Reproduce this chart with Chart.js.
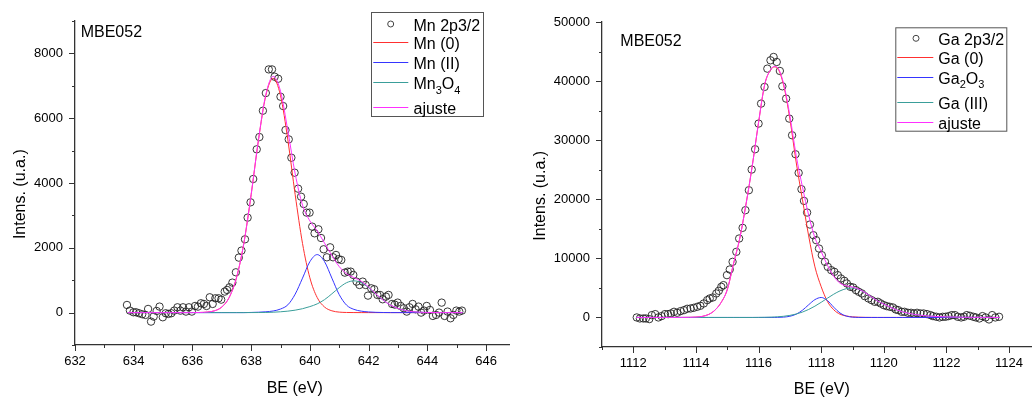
<!DOCTYPE html>
<html>
<head>
<meta charset="utf-8">
<script src="https://cdn.jsdelivr.net/npm/chart.js@4.4.1/dist/chart.umd.min.js"></script>
<style>
  html, body { margin: 0; padding: 0; background: #fff; }
  #wrap { position: relative; width: 1036px; height: 397px; }
  canvas { position: absolute; top: 0; }
  #mn { left: 0; }
  #ga { left: 518px; }
</style>
</head>
<body>
<div id="wrap">
  <canvas id="mn" width="518" height="397"></canvas>
  <canvas id="ga" width="518" height="397"></canvas>
</div>
<script>
// ---- Mn 2p3/2 : points mesures ----
const mnBE = [633.77, 633.87, 633.99, 634.08, 634.18, 634.29, 634.40, 634.49, 634.59, 634.68,
  634.78, 634.88, 634.99, 635.09, 635.18, 635.28, 635.38, 635.49, 635.59, 635.68,
  635.78, 635.88, 635.98, 636.09, 636.19, 636.29, 636.39, 636.48, 636.59, 636.69,
  636.78, 636.89, 636.98, 637.10, 637.18, 637.26, 637.36, 637.48, 637.58, 637.67,
  637.79, 637.88, 637.98, 638.07, 638.19, 638.28, 638.40, 638.50, 638.60, 638.71,
  638.80, 638.92, 639.00, 639.09, 639.17, 639.28, 639.37, 639.48, 639.60, 639.70,
  639.79, 639.89, 639.99, 640.08, 640.16, 640.29, 640.38, 640.47, 640.58, 640.69,
  640.79, 640.89, 640.98, 641.07, 641.19, 641.29, 641.39, 641.48, 641.59, 641.69,
  641.80, 641.90, 641.98, 642.09, 642.19, 642.30, 642.39, 642.48, 642.59, 642.68,
  642.80, 642.89, 642.99, 643.09, 643.20, 643.30, 643.39, 643.50, 643.60, 643.70,
  643.79, 643.89, 643.98, 644.09, 644.19, 644.30, 644.40, 644.49, 644.59, 644.69,
  644.79, 644.89, 644.99, 645.09, 645.18];
const mnCounts = [236, 62, 10, 10, -20, -51, -72, 113, -278, -123,
  51, 185, -144, -20, -41, -20, 62, 164, 60, 164,
  31, 164, 31, 205, 185, 288, 267, 205, 473, 267,
  442, 442, 400, 648, 700, 781, 925, 1244, 1697, 1913,
  2262, 2931, 3404, 4123, 5039, 5419, 6231, 6776, 7506, 7506,
  7280, 7218, 6663, 6375, 5635, 5347, 4781, 4319, 3825, 3578,
  3352, 3085, 3085, 2653, 2447, 2571, 2303, 1954, 1707, 2015,
  1707, 1779, 1650, 1625, 1234, 1265, 1265, 1162, 956, 853,
  956, 853, 524, 750, 720, 545, 545, 411, 494, 545,
  267, 247, 308, 205, 134, 31, 164, 267, 103, 185,
  0, 62, 205, 82, -103, -72, 0, 308, -103, 31,
  -175, -72, 62, 31, 62];

// ---- Mn : composantes de l'ajustement ----
const mnFitBE = [633.8, 635.0, 635.75, 636.0, 636.25, 636.5, 636.75, 637.0, 637.25, 637.5,
  637.75, 638.0, 638.25, 638.5, 638.75, 639.0, 639.25, 639.5, 639.75, 640.0,
  640.25, 640.5, 640.75, 641.0, 641.25, 641.5, 641.75, 642.0, 642.25, 642.5,
  642.75, 643.0, 643.25, 643.5, 643.75, 644.0, 644.5, 645.2];
const mnFit0 = [0, 0, 0, 1, 4, 15, 55, 172, 464, 1074,
  2133, 3638, 5329, 6699, 7230, 6699, 5329, 3638, 2133, 1074,
  464, 172, 55, 15, 4, 1, 0, 0, 0, 0,
  0, 0, 0, 0, 0, 0, 0, 0];
const mnFitII = [0, 0, 0, 0, 0, 0, 0, 0, 0, 0,
  0, 5, 12, 25, 50, 110, 240, 570, 1064, 1572,
  1790, 1572, 1064, 555, 230, 100, 45, 20, 8, 3,
  0, 0, 0, 0, 0, 0, 0, 0];
const mnFitOx = [0, 0, 0, 0, 0, 0, 0, 0, 0, 0,
  0, 1, 2, 5, 12, 25, 45, 75, 120, 185,
  270, 400, 580, 770, 923, 980, 923, 770, 570, 380,
  230, 130, 65, 30, 12, 5, 0, 0];
const mnFitSum = [0, 0, 0, 1, 4, 15, 55, 172, 464, 1074,
  2133, 3644, 5343, 6729, 7292, 6834, 5614, 4283, 3317, 2831,
  2524, 2144, 1760, 1420, 1200, 1081, 968, 790, 578, 383,
  230, 130, 65, 30, 12, 5, 0, 0];

// ---- Ga 2p3/2 : points mesures ----
const gaBE = [1112.11, 1112.21, 1112.32, 1112.40, 1112.51, 1112.59, 1112.70, 1112.80, 1112.90, 1113.01,
  1113.11, 1113.20, 1113.30, 1113.40, 1113.51, 1113.62, 1113.72, 1113.83, 1113.93, 1114.04,
  1114.14, 1114.25, 1114.36, 1114.44, 1114.54, 1114.65, 1114.73, 1114.81, 1114.88, 1114.99,
  1115.08, 1115.17, 1115.29, 1115.38, 1115.49, 1115.58, 1115.69, 1115.78, 1115.89, 1116.00,
  1116.08, 1116.19, 1116.28, 1116.38, 1116.48, 1116.58, 1116.68, 1116.76, 1116.88, 1116.98,
  1117.07, 1117.18, 1117.28, 1117.37, 1117.45, 1117.55, 1117.64, 1117.75, 1117.84, 1117.93,
  1118.02, 1118.12, 1118.21, 1118.32, 1118.42, 1118.53, 1118.63, 1118.74, 1118.82, 1118.93,
  1119.02, 1119.11, 1119.20, 1119.30, 1119.39, 1119.51, 1119.61, 1119.71, 1119.81, 1119.90,
  1120.00, 1120.09, 1120.19, 1120.29, 1120.38, 1120.46, 1120.57, 1120.66, 1120.77, 1120.87,
  1120.96, 1121.06, 1121.17, 1121.27, 1121.38, 1121.49, 1121.57, 1121.68, 1121.78, 1121.88,
  1121.97, 1122.07, 1122.17, 1122.27, 1122.36, 1122.47, 1122.56, 1122.65, 1122.75, 1122.86,
  1122.94, 1123.05, 1123.15, 1123.25, 1123.36, 1123.46, 1123.56, 1123.68];
const gaCounts = [0, -170, -170, -170, -280, 395, 564, 0, 225, 564,
  564, 676, 958, 790, 1071, 1240, 1466, 1522, 1635, 1804,
  1973, 2368, 2931, 3213, 3382, 4059, 4510, 5186, 5468, 7159,
  8117, 9414, 11105, 13360, 15164, 18151, 21533, 25028, 28467, 32807,
  36190, 39008, 42108, 43517, 44081, 43236, 41714, 39121, 37035, 33653,
  30834, 27621, 24464, 21702, 19729, 17756, 15727, 13923, 13078, 11669,
  10541, 9414, 8568, 8005, 7723, 7159, 6595, 6200, 5750, 5186,
  5073, 4622, 4340, 4059, 3608, 3213, 2931, 2649, 2649, 2368,
  2086, 1917, 1804, 1691, 1353, 1240, 958, 958, 790, 790,
  676, 790, 676, 676, 564, 395, 225, 113, 0, 113,
  113, 225, 395, 395, 113, 0, 113, 395, 282, 113,
  0, -170, 225, 0, -338, 395, 0, 113];

// ---- Ga : composantes de l'ajustement ----
const gaFitBE = [1112.1, 1113.0, 1113.5, 1113.8, 1114.0, 1114.2, 1114.4, 1114.6, 1114.8, 1115.0,
  1115.2, 1115.4, 1115.6, 1115.8, 1116.0, 1116.2, 1116.4, 1116.5, 1116.6, 1116.8,
  1117.0, 1117.2, 1117.4, 1117.6, 1117.8, 1118.0, 1118.2, 1118.4, 1118.6, 1118.8,
  1119.0, 1119.2, 1119.4, 1119.6, 1119.8, 1120.0, 1120.2, 1120.4, 1120.6, 1120.8,
  1121.0, 1121.4, 1122.0, 1122.6, 1123.7];
const gaFit0 = [0, 0, 5, 20, 60, 180, 500, 1200, 2500, 4700,
  9100, 13400, 19200, 25700, 33000, 39500, 42000, 42400, 42200, 39300,
  33600, 26300, 20000, 13800, 8560, 5200, 2700, 1300, 550, 250,
  100, 40, 15, 5, 0, 0, 0, 0, 0, 0,
  0, 0, 0, 0, 0];
const gaFitOx = [0, 0, 0, 0, 0, 0, 0, 0, 0, 0,
  0, 0, 0, 0, 0, 0, 2, 5, 13, 57,
  199, 552, 1219, 2149, 3019, 3380, 2861, 1735, 754, 235,
  52, 8, 0, 0, 0, 0, 0, 0, 0, 0,
  0, 0, 0, 0, 0];
const gaFitIII = [0, 0, 0, 0, 0, 0, 0, 0, 0, 0,
  0, 0, 0, 0, 12, 27, 55, 78, 107, 198,
  347, 577, 907, 1353, 1914, 2567, 3264, 3934, 4494, 4868,
  5000, 4750, 4200, 3500, 2800, 2250, 1750, 1300, 950, 700,
  500, 250, 100, 30, 0];
const gaFitSum = [0, 0, 5, 20, 60, 180, 500, 1200, 2500, 4700,
  9100, 13400, 19200, 25700, 33012, 39527, 42057, 42483, 42320, 39555,
  34146, 27429, 22126, 17302, 13493, 11147, 8825, 6969, 5798, 5353,
  5152, 4798, 4215, 3505, 2800, 2250, 1750, 1300, 950, 700,
  500, 250, 100, 30, 0];

// ---- graduations ----
const mnTicksX = [632, 634, 636, 638, 640, 642, 644, 646];
const mnMinorX = [633, 635, 637, 639, 641, 643, 645];
const mnTicksY = [0, 2000, 4000, 6000, 8000];
const mnMinorY = [-1000, 1000, 3000, 5000, 7000, 9000];
const gaTicksX = [1112, 1114, 1116, 1118, 1120, 1122, 1124];
const gaMinorX = [1111, 1113, 1115, 1117, 1119, 1121, 1123];
const gaTicksY = [0, 10000, 20000, 30000, 40000, 50000];
const gaMinorY = [-5000, 5000, 15000, 25000, 35000, 45000];

const FONT = '"Liberation Sans", Arial, sans-serif';
const RED = '#ff3030', BLUE = '#3535ff', TEAL = '#3a9e9a', MAGENTA = '#ff30ff';

function pairs(xs, ys) {
  return xs.map((x, i) => ({ x: x, y: ys[i] }));
}

// texte avec indices : "_3" -> 3 en indice
function drawRich(ctx, text, x, y, size) {
  for (let i = 0; i < text.length; i++) {
    let ch = text[i];
    let sub = false;
    if (ch === '_' && i + 1 < text.length) { sub = true; ch = text[++i]; }
    ctx.font = (sub ? Math.round(size * 0.66) : size) + 'px ' + FONT;
    ctx.fillText(ch, x, sub ? y + size * 0.3 : y);
    x += ctx.measureText(ch).width;
  }
}

// petites et grandes graduations, titres, etiquette et legende facon Origin
const originLook = {
  id: 'originLook',
  afterDraw(chart, args, o) {
    const ctx = chart.ctx;
    const a = chart.chartArea;
    const sx = chart.scales.x, sy = chart.scales.y;
    ctx.save();
    ctx.strokeStyle = '#333';
    ctx.lineWidth = 1;
    ctx.beginPath();
    const xt = (v, len) => {
      const p = Math.round(sx.getPixelForValue(v)) + 0.5;
      ctx.moveTo(p, a.bottom); ctx.lineTo(p, a.bottom + len);
    };
    const yt = (v, len) => {
      const p = Math.round(sy.getPixelForValue(v)) + 0.5;
      ctx.moveTo(a.left - len, p); ctx.lineTo(a.left, p);
    };
    o.xMajor.forEach(v => xt(v, 6));
    o.xMinor.forEach(v => xt(v, 3));
    o.yMajor.forEach(v => yt(v, 6));
    o.yMinor.forEach(v => yt(v, 3));
    ctx.stroke();

    ctx.fillStyle = '#000';
    ctx.font = '16px ' + FONT;
    ctx.textBaseline = 'alphabetic';
    ctx.textAlign = 'center';
    ctx.fillText(o.xTitle, o.xTitleAt[0], o.xTitleAt[1]);
    ctx.save();
    ctx.translate(o.yTitleAt[0], o.yTitleAt[1]);
    ctx.rotate(-Math.PI / 2);
    ctx.fillText(o.yTitle, 0, 0);
    ctx.restore();
    ctx.textAlign = 'left';
    ctx.fillText(o.tag, o.tagAt[0], o.tagAt[1]);

    const L = o.legend;
    ctx.strokeStyle = '#555';
    ctx.strokeRect(L.box[0] + 0.5, L.box[1] + 0.5, L.box[2], L.box[3]);
    chart.data.datasets.forEach((ds, i) => {
      const y = L.rows[i];
      if (ds.showLine) {
        ctx.strokeStyle = ds.borderColor;
        ctx.beginPath();
        ctx.moveTo(L.lineX[0], Math.round(y) + 0.5);
        ctx.lineTo(L.lineX[1], Math.round(y) + 0.5);
        ctx.stroke();
      } else {
        ctx.strokeStyle = '#444';
        ctx.beginPath();
        ctx.arc(L.markX, y, 3, 0, Math.PI * 2);
        ctx.stroke();
      }
      ctx.fillStyle = '#000';
      drawRich(ctx, ds.label, L.textX, y + 6.5, 16);
    });
    ctx.restore();
  }
};

function lineSet(label, xs, ys, color, order) {
  return {
    label: label, data: pairs(xs, ys), showLine: true, order: order,
    borderColor: color, borderWidth: 1, pointRadius: 0, fill: false,
    cubicInterpolationMode: 'monotone'
  };
}

function makeChart(id, c) {
  const tickFont = { size: 13, family: FONT };
  return new Chart(document.getElementById(id), {
    type: 'scatter',
    data: {
      datasets: [
        {
          label: c.labels[0], data: pairs(c.be, c.counts), order: 5,
          pointRadius: 3.7, pointBorderWidth: 1, pointStyle: 'circle',
          borderColor: 'rgba(35,35,35,0.9)', backgroundColor: 'rgba(0,0,0,0)'
        },
        lineSet(c.labels[1], c.fitBE, c.fits[0], RED, 4),
        lineSet(c.labels[2], c.fitBE, c.fits[1], BLUE, 3),
        lineSet(c.labels[3], c.fitBE, c.fits[2], TEAL, 2),
        lineSet(c.labels[4], c.fitBE, c.fits[3], MAGENTA, 1)
      ]
    },
    options: {
      responsive: false,
      animation: false,
      devicePixelRatio: 1,
      events: [],
      layout: { padding: c.padding },
      scales: {
        x: {
          type: 'linear', min: c.xRange[0], max: c.xRange[1],
          afterBuildTicks: s => { s.ticks = c.ticksX.map(v => ({ value: v })); },
          afterFit: s => { s.height = c.xHeight; },
          grid: { display: false, drawTicks: false },
          border: { display: true, color: '#333', width: 1.3 },
          ticks: { padding: c.xPad, color: '#000', font: tickFont, autoSkip: false, maxRotation: 0, callback: v => String(v) }
        },
        y: {
          type: 'linear', min: c.yRange[0], max: c.yRange[1],
          afterBuildTicks: s => { s.ticks = c.ticksY.map(v => ({ value: v })); },
          afterFit: s => { s.width = c.yWidth; },
          grid: { display: false, drawTicks: false },
          border: { display: true, color: '#333', width: 1.3 },
          ticks: { padding: c.yPad, color: '#000', font: tickFont, autoSkip: false, callback: v => String(v) }
        }
      },
      plugins: {
        legend: { display: false },
        tooltip: { enabled: false },
        originLook: {
          xMajor: c.ticksX, xMinor: c.minorX, yMajor: c.ticksY, yMinor: c.minorY,
          xTitle: 'BE (eV)', yTitle: 'Intens. (u.a.)', tag: 'MBE052',
          xTitleAt: c.xTitleAt, yTitleAt: c.yTitleAt, tagAt: c.tagAt,
          legend: c.legend
        }
      }
    },
    plugins: [originLook]
  });
}

makeChart('mn', {
  labels: ['Mn 2p3/2', 'Mn (0)', 'Mn (II)', 'Mn_3O_4', 'ajuste'],
  be: mnBE, counts: mnCounts,
  fitBE: mnFitBE, fits: [mnFit0, mnFitII, mnFitOx, mnFitSum],
  xRange: [632, 646.8], yRange: [-1000, 9000],
  ticksX: mnTicksX, minorX: mnMinorX, ticksY: mnTicksY, minorY: mnMinorY,
  padding: { top: 21, right: 8.5, left: 0, bottom: 0 },
  xHeight: 52, yWidth: 75, xPad: 9, yPad: 12,
  xTitleAt: [294.7, 392.5], yTitleAt: [24.5, 194.2], tagAt: [80.7, 37],
  legend: { box: [371, 12, 112, 104], rows: [24, 42.3, 62, 82.3, 107.3],
            lineX: [373.3, 408.3], markX: 390.7, textX: 413.5 }
});

makeChart('ga', {
  labels: ['Ga 2p3/2', 'Ga (0)', 'Ga_2O_3', 'Ga (III)', 'ajuste'],
  be: gaBE, counts: gaCounts,
  fitBE: gaFitBE, fits: [gaFit0, gaFitOx, gaFitIII, gaFitSum],
  xRange: [1111, 1124.7], yRange: [-5000, 50000],
  ticksX: gaTicksX, minorX: gaMinorX, ticksY: gaTicksY, minorY: gaMinorY,
  padding: { top: 22, right: 1.6, left: 0, bottom: 0 },
  xHeight: 50, yWidth: 84, xPad: 8.5, yPad: 12,
  xTitleAt: [303.8, 393.5], yTitleAt: [27, 195.8], tagAt: [102.3, 46.4],
  legend: { box: [377.3, 27.3, 111, 103.4], rows: [38.3, 57.3, 77, 102.3, 122.3],
            lineX: [379.3, 415.3], markX: 398, textX: 420.3 }
});
</script>
</body>
</html>
